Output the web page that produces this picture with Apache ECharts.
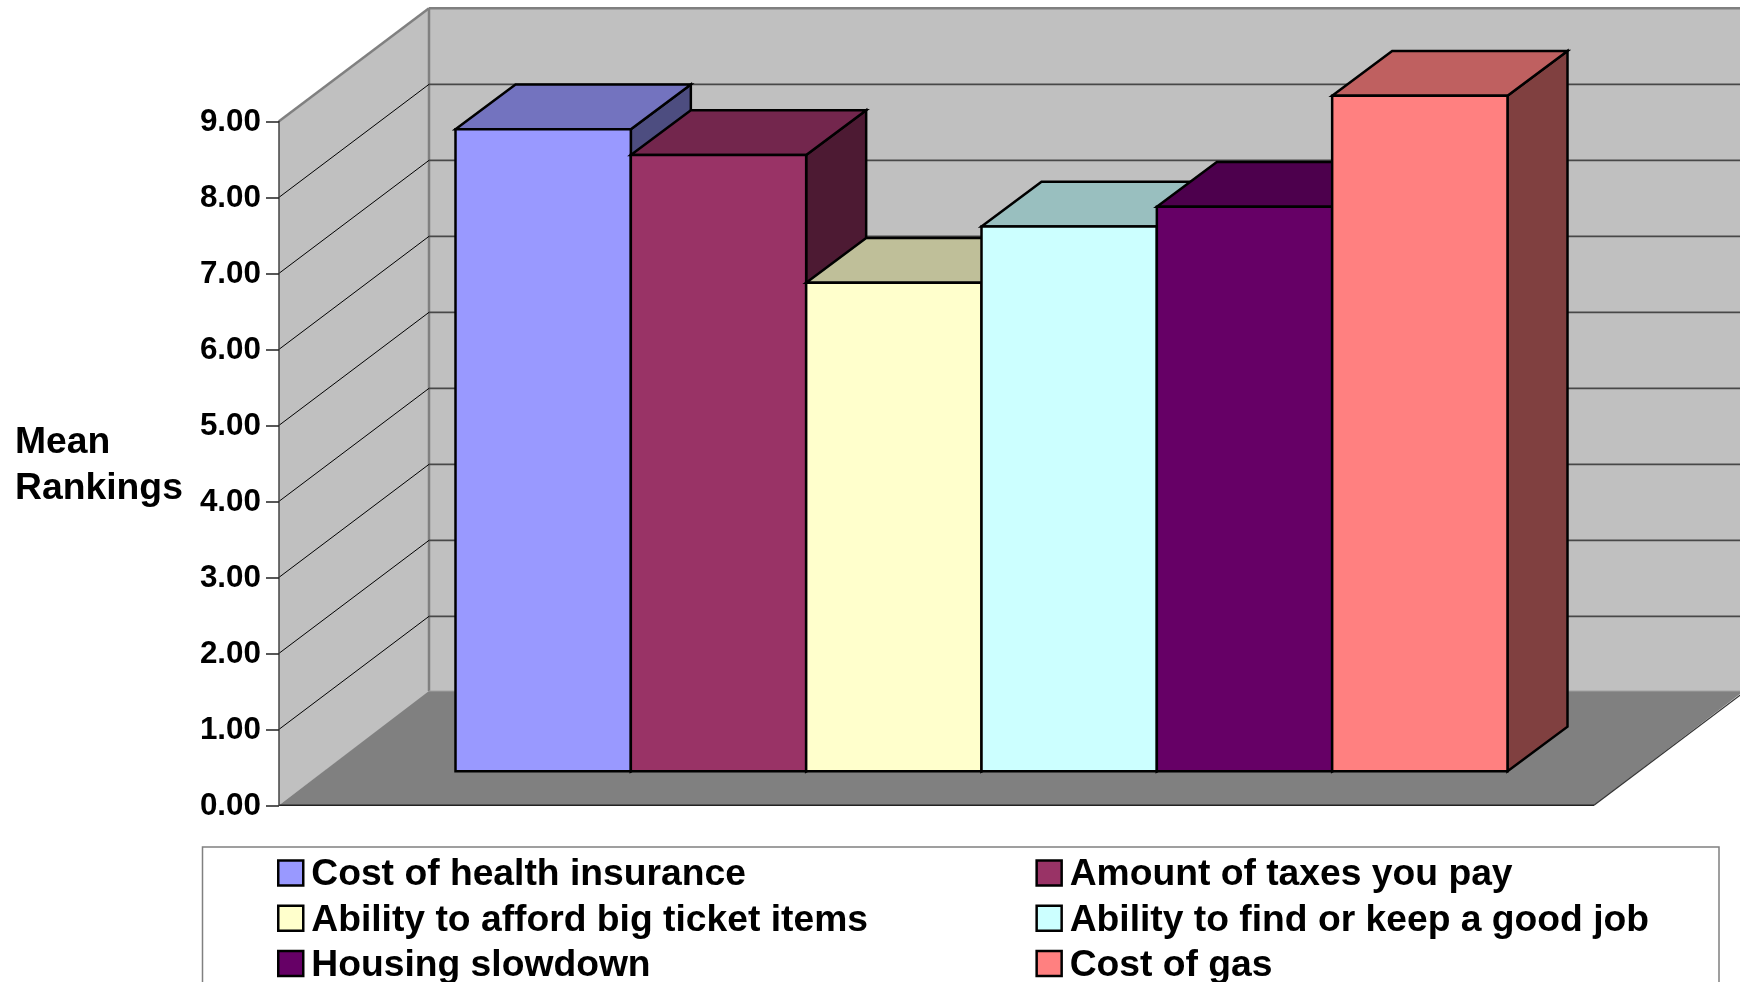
<!DOCTYPE html>
<html>
<head>
<meta charset="utf-8">
<style>html,body{margin:0;padding:0;background:#fff}#c{width:1740px;height:982px}</style>
<script src="https://cdn.jsdelivr.net/npm/echarts@6/dist/echarts.min.js"></script>
</head>
<body>
<div id="c"></div>
<script>
const categories = ['Cost of health insurance','Amount of taxes you pay','Ability to afford big ticket items','Ability to find or keep a good job','Housing slowdown','Cost of gas'];
const meanRankings = [8.45, 8.11, 6.43, 7.17, 7.43, 8.89];
const barColors = ['#9999FF','#993366','#FFFFCC','#CCFFFF','#660066','#FF8080'];
const topColors = ['#7373BF','#73264D','#BFBF99','#99BFBF','#4D004D','#BF6060'];
const sideColors = ['#4D4D80','#4D1A33','#808066','#668080','#330033','#804040'];
const yTicks = [0,1,2,3,4,5,6,7,8,9];
const yAxisName = ['Mean','Rankings'];
const font = '"Liberation Sans", Arial, sans-serif';

const WALL = {dx:150, dy:113};
const FLOOR_LIFT = 1.3;
const BAR_DEPTH = {dx:60, dy:44.7};
const BAR_OFFSET = {dx:45, dy:34};
const GROUP = 7.5;

function poly(points, fill, stroke, lw){
  return {type:'polygon', shape:{points}, style:{fill, stroke:stroke||null, lineWidth:lw||0, lineJoin:'miter'}};
}
function line(a, b, stroke, lw){
  return {type:'line', shape:{x1:a[0],y1:a[1],x2:b[0],y2:b[1]}, style:{stroke, lineWidth:lw}};
}
function renderFrame(params, api){
  const band = api.size([1,0])[0];
  const cx = api.coord([0,0])[0];
  const left = cx - band/2, right = cx + band/2;
  const y0 = api.coord([0,0])[1], yTop = api.coord([0,yTicks[yTicks.length-1]])[1];
  const b = (p)=>[p[0]+WALL.dx, p[1]-WALL.dy];
  if (params.dataIndex === 0) {
    const fl=[left,y0], fr=[right,y0], tl=[left,yTop], tr=[right,yTop];
    const bfl=[b(fl)[0], b(fl)[1]-FLOOR_LIFT], bfr=[b(fr)[0], b(fr)[1]-FLOOR_LIFT];
    return {type:'group', children:[
      poly([fl,tl,b(tl),b(fl)], '#C0C0C0'),
      poly([b(fl),b(tl),b(tr),b(fr)], '#C0C0C0'),
      poly([fl,fr,bfr,bfl], '#808080'),
      line(fl,fr,'#222',1.5),
      line(fr,b(fr),'#333',1.2),
      line(tl,b(tl),'#808080',2.5),
      line(b(tl),b(tr),'#808080',2.5),
      line(bfl,b(tl),'#808080',2.5),
      line(bfl,bfr,'#A0A0A0',1)
    ]};
  }
  const v = api.value(0);
  if (v === yTicks[yTicks.length-1]) return null;
  const y = api.coord([0,v])[1];
  return {type:'group', children:[
    line([left,y], b([left,y]), '#000', 1),
    line(b([left,y]), b([right,y]), '#484848', 1.6)
  ]};
}
function renderBar(i){
  return function(params, api){
    const band = api.size([1,0])[0];
    const w = band/GROUP;
    const c = api.coord([0, api.value(1)]);
    const base = api.coord([0,0])[1] - BAR_OFFSET.dy;
    const x = c[0] + BAR_OFFSET.dx + (i - categories.length/2)*w;
    const top = c[1] - BAR_OFFSET.dy;
    const d = BAR_DEPTH;
    const lw = 2.5;
    return {type:'group', children:[
      poly([[x+w,top],[x+w+d.dx,top-d.dy],[x+w+d.dx,base-d.dy],[x+w,base]], sideColors[i], '#000', lw),
      poly([[x,top],[x+d.dx,top-d.dy],[x+w+d.dx,top-d.dy],[x+w,top]], topColors[i], '#000', lw),
      poly([[x,top],[x+w,top],[x+w,base],[x,base]], barColors[i], '#000', lw)
    ]};
  };
}
const boldText = {fontFamily:font, fontWeight:'bold', color:'#000'};
const legendBase = {
  selectedMode:false, orient:'vertical', icon:'rect', padding:0, height:200, width:680,
  itemWidth:25, itemHeight:25, itemGap:4.3,
  itemStyle:{borderColor:'#000', borderWidth:2.5},
  formatter:(n)=>`{t|${n}}`,
  textStyle:{...boldText, fontSize:37.25, rich:{t:{...boldText, fontSize:37.25, lineHeight:37, padding:[4,0,0,3]}}},
};
const chart = echarts.init(document.getElementById('c'), null, {renderer:'canvas'});
chart.setOption({
  animation:false,
  backgroundColor:'#fff',
  grid:{left:279, top:121.33, width:1315, height:684, containLabel:false},
  xAxis:{type:'category', data:[''], show:false},
  yAxis:{
    type:'value', min:0, max:9, interval:1, z:3,
    name:yAxisName.map(s=>`{n|${s}}`).join('\n'), nameLocation:'middle', nameRotate:0, nameGap:264,
    nameTextStyle:{...boldText, fontSize:37.3, align:'left', rich:{n:{...boldText, fontSize:37.3, lineHeight:46.6, padding:[4.4,0,0,0]}}},
    axisLine:{show:true, lineStyle:{color:'#444', width:1.5}},
    axisTick:{show:true, length:13, lineStyle:{color:'#222', width:1.5}},
    axisLabel:{margin:18, ...boldText, fontSize:31.4, formatter:(v)=>`{a|${v.toFixed(2)}}`, rich:{a:{...boldText, fontSize:31.4, lineHeight:32, padding:[3,0,0,0]}}},
    splitLine:{show:false}
  },
  legend:[
    Object.assign({}, legendBase, {left:277, top:852.5, data:[categories[0],categories[2],categories[4]]}),
    Object.assign({}, legendBase, {left:1035.4, top:852.5, data:[categories[1],categories[3],categories[5]]})
  ],
  graphic:[{type:'rect', silent:true, z:0, shape:{x:202.5,y:847,width:1516.5,height:200}, style:{fill:'none', stroke:'#808080', lineWidth:1.5}}],
  series:[
    {type:'custom', name:'frame', z:1, silent:true, clip:false, data:yTicks.map(v=>[v]), encode:{y:0}, renderItem:renderFrame}
  ].concat(categories.map((name,i)=>({
    type:'custom', name, z:2, clip:false, silent:true,
    itemStyle:{color:barColors[i]},
    data:[[0, meanRankings[i]]], encode:{x:0,y:1},
    renderItem:renderBar(i)
  })))
});
</script>
</body>
</html>
